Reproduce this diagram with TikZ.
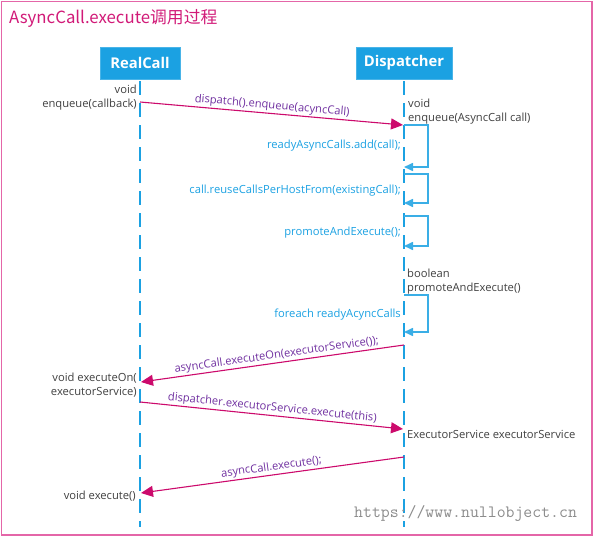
\documentclass[tikz,border=0pt]{standalone}
\usepackage{fontspec}
\setmainfont{Open Sans}
\newfontfamily\cjk{Noto Sans CJK SC}
\usetikzlibrary{arrows.meta}
\definecolor{lblue}{HTML}{1BA1E2}
\definecolor{loopc}{HTML}{3AAEE6}
\definecolor{magc}{HTML}{CC0A6C}
\definecolor{framec}{HTML}{E466A8}
\definecolor{titlec}{HTML}{D11A78}
\definecolor{purp}{HTML}{7030A0}
\definecolor{dark}{HTML}{404040}
\tikzset{
  actor/.style={draw=lblue!80!white, fill=lblue, text=white, font=\bfseries\fontsize{14.8}{16}\selectfont, inner sep=0pt},
  life/.style={draw=lblue, line width=2.2pt, dash pattern=on 14pt off 8pt},
  msg/.style={draw=magc, line width=1.1pt, -{Triangle[length=12pt,width=11pt]}},
  selfl/.style={draw=loopc, line width=1.6pt, -{Triangle[length=9pt,width=8pt]}},
  lab/.style={text=purp, font=\fontsize{11.2}{13}\selectfont, inner sep=1.5pt},
  blab/.style={text=lblue, font=\fontsize{11.2}{13}\selectfont, inner sep=0pt, anchor=east},
  txt/.style={text=dark, font=\fontsize{11.2}{14}\selectfont, inner sep=0pt},
}
\begin{document}
\begin{tikzpicture}[x=1pt,y=-1pt]
\useasboundingbox (0,0) rectangle (594,537);
\draw[draw=framec, line width=1.6pt] (1.5,1.5) rectangle (592,535);
\node[anchor=west, text=titlec, font=\cjk\fontsize{16.8}{18}\selectfont, inner sep=0pt] (title) at (9,18) {AsyncCall.execute调用过程};

\node[actor, minimum width=80pt, minimum height=32pt] (rc) at (140,63) {RealCall};
\node[actor, minimum width=96pt, minimum height=32pt] (dp) at (404,63) {Dispatcher};
\coordinate (rcEnd) at (140,527);
\coordinate (dpEnd) at (404,527);
\draw[life] ([yshift=-2pt]rc.south) -- (rcEnd);
\draw[life] ([yshift=-2pt]dp.south) -- (dpEnd);

% message 1
\coordinate (m1s) at (140,102);
\coordinate (m1e) at (403,125);
\draw[msg] (m1s) -- node[lab, above, sloped] {dispatch().enqueue(acyncCall)} (m1e);
\node[txt, anchor=east, align=right] (t1) at (137,98) {void\\enqueue(callback)};
\node[txt, anchor=west, align=left] (t2) at (408,112) {void\\enqueue(AsyncCall call)};

% self loops
\coordinate (l1a) at (404,125); \coordinate (l1b) at (404,167);
\draw[selfl] (l1a) -- ++(24,0) |- (l1b);
\node[blab] (b1) at (401,146) {readyAsyncCalls.add(call);};

\coordinate (l2a) at (404,174); \coordinate (l2b) at (404,203);
\draw[selfl] (l2a) -- ++(24,0) |- (l2b);
\node[blab] (b2) at (401,190.5) {call.reuseCallsPerHostFrom(existingCall);};

\coordinate (l3a) at (404,216); \coordinate (l3b) at (404,246);
\draw[selfl] (l3a) -- ++(24,0) |- (l3b);
\node[blab] (b3) at (401,232.5) {promoteAndExecute();};

\node[txt, anchor=west, align=left] (t3) at (407,282) {boolean\\promoteAndExecute()};

\coordinate (l4a) at (404,295); \coordinate (l4b) at (404,332);
\draw[selfl] (l4a) -- ++(24,0) |- (l4b);
\node[blab] (b4) at (401,314.5) {foreach readyAcyncCalls};

% message 2
\coordinate (m2s) at (404,345);
\coordinate (m2e) at (141,382);
\draw[msg] (m2s) -- node[lab, above, sloped, pos=0.48] {asyncCall.executeOn(executorService());} (m2e);
\node[txt, anchor=east, align=right] (t4) at (137,385.5) {void executeOn(\\executorService)};

% message 3
\coordinate (m3s) at (140,402);
\coordinate (m3e) at (403,429);
\draw[msg] (m3s) -- node[lab, above, sloped] {dispatcher.executorService.execute(this)} (m3e);
\node[txt, anchor=west] (t5) at (407,434) {ExecutorService executorService};

% message 4
\coordinate (m4s) at (404,457);
\coordinate (m4e) at (141,493);
\draw[msg] (m4s) -- node[lab, above, sloped] {asyncCall.execute();} (m4e);
\node[txt, anchor=east] (t6) at (136,496) {void execute()};

\node[anchor=west, text=black!45, font=\ttfamily\fontsize{17.3}{18}\selectfont, inner sep=0pt] (wm) at (354,513) {https://www.nullobject.cn};
\end{tikzpicture}
\end{document}
